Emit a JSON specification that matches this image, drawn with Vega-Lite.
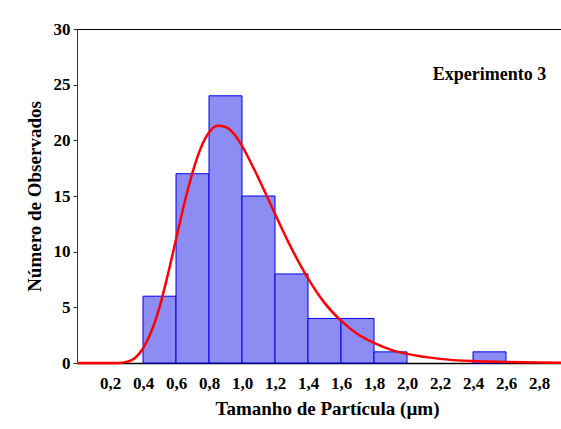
{
  "$schema": "https://vega.github.io/schema/vega-lite/v6.json",
  "width": 495,
  "height": 334,
  "autosize": {"type": "none"},
  "padding": {"left": 77, "top": 29, "right": 0, "bottom": 66},
  "background": "white",
  "config": {
    "view": {"stroke": "black", "strokeWidth": 1},
    "font": "Liberation Serif",
    "axis": {
      "labelFont": "Liberation Serif",
      "titleFont": "Liberation Serif",
      "labelFontWeight": "bold",
      "titleFontWeight": "bold",
      "labelColor": "black",
      "titleColor": "black",
      "grid": false,
      "labelOverlap": false,
      "domainColor": "#333333"
    },
    "axisX": {"labelOverlap": false, "labelBound": false}
  },
  "datasets": {
    "bars": [
      {"start": 0.4, "end": 0.6, "count": 6},
      {"start": 0.6, "end": 0.8, "count": 17},
      {"start": 0.8, "end": 1.0, "count": 24},
      {"start": 1.0, "end": 1.2, "count": 15},
      {"start": 1.2, "end": 1.4, "count": 8},
      {"start": 1.4, "end": 1.6, "count": 4},
      {"start": 1.6, "end": 1.8, "count": 4},
      {"start": 1.8, "end": 2.0, "count": 1},
      {"start": 2.4, "end": 2.6, "count": 1}
    ],
    "curve": [
      {"size": 0.0, "fit": 0},
      {"size": 0.1, "fit": 0},
      {"size": 0.2, "fit": 0.0},
      {"size": 0.25, "fit": 0.01},
      {"size": 0.3, "fit": 0.1},
      {"size": 0.35, "fit": 0.43},
      {"size": 0.4, "fit": 1.3},
      {"size": 0.45, "fit": 2.8},
      {"size": 0.5, "fit": 5.0},
      {"size": 0.55, "fit": 7.9},
      {"size": 0.6, "fit": 11.1},
      {"size": 0.65, "fit": 14.3},
      {"size": 0.7, "fit": 17.1},
      {"size": 0.75, "fit": 19.3},
      {"size": 0.8, "fit": 20.7},
      {"size": 0.85, "fit": 21.3},
      {"size": 0.9, "fit": 21.2},
      {"size": 0.95, "fit": 20.6},
      {"size": 1.0, "fit": 19.5},
      {"size": 1.05, "fit": 18.1},
      {"size": 1.1, "fit": 16.6},
      {"size": 1.15, "fit": 15.0},
      {"size": 1.2, "fit": 13.4},
      {"size": 1.3, "fit": 10.3},
      {"size": 1.4, "fit": 7.6},
      {"size": 1.5, "fit": 5.4},
      {"size": 1.6, "fit": 3.8},
      {"size": 1.7, "fit": 2.6},
      {"size": 1.8, "fit": 1.8},
      {"size": 1.9, "fit": 1.2},
      {"size": 2.0, "fit": 0.82},
      {"size": 2.2, "fit": 0.37},
      {"size": 2.4, "fit": 0.17},
      {"size": 2.6, "fit": 0.09},
      {"size": 2.8, "fit": 0.04},
      {"size": 3.0, "fit": 0.02}
    ]
  },
  "encoding": {
    "x": {
      "type": "quantitative",
      "scale": {"domain": [0, 3.0], "nice": false, "zero": false},
      "axis": {
        "values": [0.2, 0.4, 0.6, 0.8, 1.0, 1.2, 1.4, 1.6, 1.8, 2.0, 2.2, 2.4, 2.6, 2.8],
        "labelExpr": "replace(format(datum.value, '.1f'), '.', ',')",
        "labelOverlap": false,
        "labelBound": false,
        "ticks": false,
        "labelPadding": 12,
        "labelFontSize": 17,
        "title": "Tamanho de Partícula (µm)",
        "titleFontSize": 19,
        "titlePadding": 8,
        "titleX": 250,
        "domainColor": "black",
        "domainWidth": 1.5
      }
    },
    "y": {
      "type": "quantitative",
      "scale": {"domain": [0, 30], "nice": false},
      "axis": {
        "values": [0, 5, 10, 15, 20, 25, 30],
        "labelOverlap": false,
        "tickSize": 4,
        "tickColor": "#333333",
        "labelPadding": 3,
        "labelFontSize": 17,
        "title": "Número de Observados",
        "titleFontSize": 19,
        "titlePadding": 9
      }
    }
  },
  "layer": [
    {
      "data": {"name": "bars"},
      "mark": {"type": "rect", "fill": "#8c8cf2", "stroke": "#0000ee", "strokeWidth": 1},
      "encoding": {
        "x": {"field": "start", "type": "quantitative"},
        "x2": {"field": "end"},
        "y": {"field": "count", "type": "quantitative"},
        "y2": {"datum": 0}
      }
    },
    {
      "data": {"name": "curve"},
      "mark": {"type": "line", "color": "#ff0000", "strokeWidth": 2.5, "interpolate": "monotone"},
      "encoding": {
        "x": {"field": "size", "type": "quantitative"},
        "y": {"field": "fit", "type": "quantitative"}
      }
    },
    {
      "data": {"values": [{"label": "Experimento 3"}]},
      "mark": {"type": "text", "font": "Liberation Serif", "fontWeight": "bold", "fontSize": 18, "color": "black"},
      "encoding": {
        "text": {"field": "label"},
        "x": {"datum": 2.5},
        "y": {"datum": 25.9}
      }
    }
  ]
}
